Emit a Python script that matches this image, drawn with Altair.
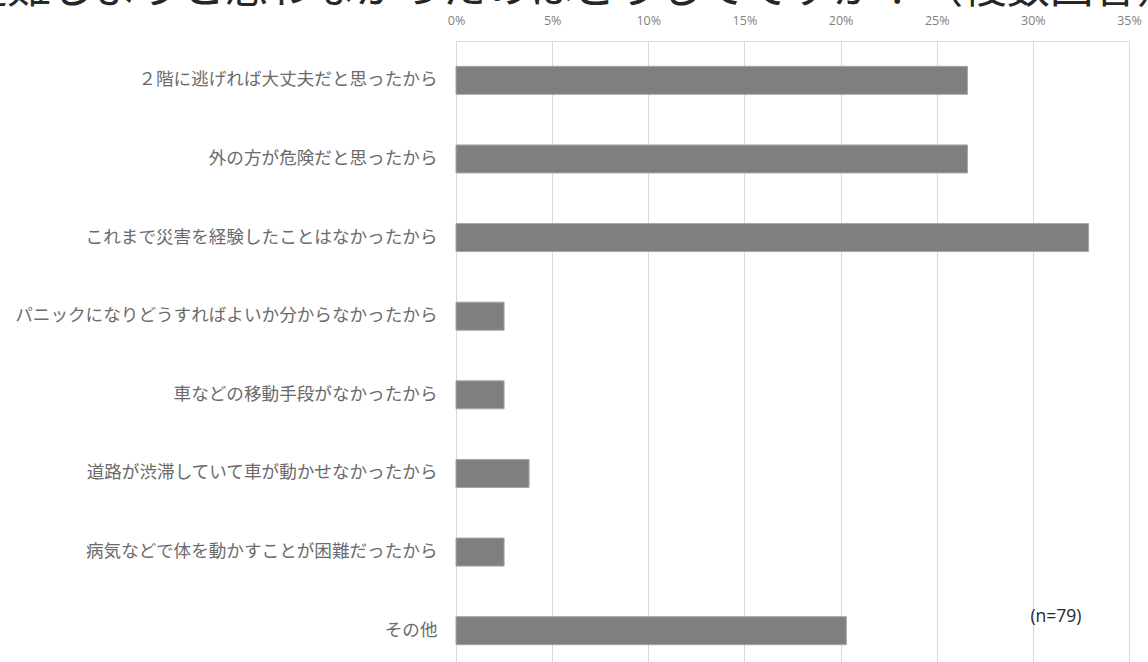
import altair as alt
import pandas as pd

title_text = "避難しようと思わなかったのはどうしてですか？（複数回答）"
categories = [
    "２階に逃げれば大丈夫だと思ったから",
    "外の方が危険だと思ったから",
    "これまで災害を経験したことはなかったから",
    "パニックになりどうすればよいか分からなかったから",
    "車などの移動手段がなかったから",
    "道路が渋滞していて車が動かせなかったから",
    "病気などで体を動かすことが困難だったから",
    "その他",
]
values = [26.6, 26.6, 32.9, 2.5, 2.5, 3.8, 2.5, 20.3]
x_ticks = [0, 5, 10, 15, 20, 25, 30, 35]
note_text = ["(n=79)"]
note_x = [31.2]
note_cat = ["その他"]

df = pd.DataFrame({"cat": categories, "val": values})
note_df = pd.DataFrame({"cat": note_cat, "x": note_x, "label": note_text})

JP = "Noto Sans CJK JP"

x_enc = alt.X(
    "val:Q",
    scale=alt.Scale(domain=[0, 35], nice=False, zero=True),
    axis=alt.Axis(
        orient="top", values=x_ticks, labelExpr="datum.value + '%'",
        title=None, grid=True, gridColor="#d9d9d9", gridWidth=1,
        domain=False, ticks=False, labelPadding=14, labelFlush=False,
        labelFont="Open Sans", labelFontSize=12.5, labelColor="#7f7f7f",
    ),
)
y_enc = alt.Y(
    "cat:N", sort=categories,
    scale=alt.Scale(range=[0, 629], paddingInner=0, paddingOuter=0),
    axis=alt.Axis(
        title=None, domain=False, ticks=False, grid=False,
        labelFont=JP, labelFontSize=17.6, labelColor="#6b6b6b",
        labelPadding=19, labelLimit=500,
    ),
)

bars = alt.Chart(df).mark_bar(
    size=28, color="#7f7f7f", stroke="#a6a6a6", strokeWidth=1
).encode(x=x_enc, y=y_enc)

note = alt.Chart(note_df).mark_text(
    font="Open Sans", fontSize=17.5, color="#262626", align="center", dy=-14
).encode(
    x=alt.X("x:Q"),
    y=alt.Y("cat:N", sort=categories),
    text="label:N",
)

chart = alt.layer(bars, note).properties(
    width=673, height=621,
    title=alt.TitleParams(
        title_text, font=JP, fontSize=43.5, fontWeight="normal", color="#262626",
        anchor="middle", frame="bounds", baseline="alphabetic", offset=0,
        dy=32, dx=-6,
    ),
    autosize=alt.AutoSizeParams(type="none"),
    padding={"left": 456, "top": 41, "right": 19, "bottom": 0},
).configure_view(stroke=None).configure(background="white")

chart.save("out.html", embed_options={"renderer": "svg", "actions": False})
